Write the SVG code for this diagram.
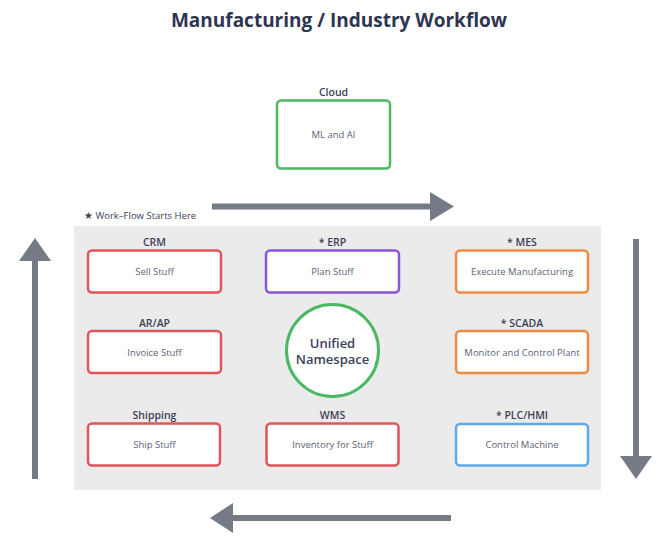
<svg xmlns="http://www.w3.org/2000/svg" width="669" height="558" viewBox="0 0 669 558">
<style>
text{font-family:"Open Sans","Liberation Sans",sans-serif}
.title{font-size:19px;font-weight:700;fill:#2e3550}
.lbl{font-size:10.5px;font-weight:600;fill:#3b4158;text-anchor:middle}
.txt{font-size:9.5px;fill:#5d6275;text-anchor:middle}
.box{fill:#fff;stroke-width:2.5}
.red{stroke:#e0545c}
.purple{stroke:#8c55d8}
.orange{stroke:#ef8a44}
.blue{stroke:#5ea9ea}
.green{stroke:#4cb863}
.shaft{stroke:#747b86;stroke-width:6;fill:none}
.head{fill:#747b86}
</style>
<rect width="669" height="558" fill="#fff"/>
<text class="title" x="339" y="27" text-anchor="middle">Manufacturing / Industry Workflow</text>
<rect x="74" y="226" width="527" height="264" fill="#ebebeb"/>
<text x="84" y="219" style="font-size:9.5px;fill:#3b4158">★ Work–Flow Starts Here</text>
<g id="connectors">
<line class="shaft" x1="212" y1="206.5" x2="432" y2="206.5"/>
<polygon class="head" points="430,192 454,206.5 430,221"/>
<line class="shaft" x1="636" y1="239" x2="636" y2="458"/>
<polygon class="head" points="620,456 652,456 636,479"/>
<line class="shaft" x1="451" y1="518" x2="232" y2="518"/>
<polygon class="head" points="233,503 210,518 233,533"/>
<line class="shaft" x1="35" y1="479" x2="35" y2="259"/>
<polygon class="head" points="19,261 51,261 35,238"/>
</g>
<g id="cloud">
<text class="lbl" x="333.5" y="96">Cloud</text>
<rect class="box green" x="277" y="100.5" width="113" height="68" rx="4"/>
<text class="txt" x="333.5" y="137.5">ML and AI</text>
</g>
<g id="crm">
<text class="lbl" x="154.5" y="246">CRM</text>
<rect class="box red" x="88" y="250.5" width="133" height="42" rx="4"/>
<text class="txt" x="154.5" y="275">Sell Stuff</text>
</g>
<g id="erp">
<text class="lbl" x="332.5" y="246">* ERP</text>
<rect class="box purple" x="266" y="250.5" width="133" height="42" rx="4"/>
<text class="txt" x="332.5" y="275">Plan Stuff</text>
</g>
<g id="mes">
<text class="lbl" x="522" y="246">* MES</text>
<rect class="box orange" x="456" y="250.5" width="132" height="42" rx="4"/>
<text class="txt" x="522" y="275">Execute Manufacturing</text>
</g>
<g id="arap">
<text class="lbl" x="154.5" y="327">AR/AP</text>
<rect class="box red" x="88" y="331" width="133" height="42" rx="4"/>
<text class="txt" x="154.5" y="355.5">Invoice Stuff</text>
</g>
<g id="uns">
<circle cx="332.5" cy="350.5" r="46" fill="#fff" stroke="#4cb863" stroke-width="3"/>
<text x="332.5" y="347.5" text-anchor="middle" style="font-size:13px;font-weight:600;fill:#3b4158">Unified</text>
<text x="332.5" y="364" text-anchor="middle" style="font-size:13px;font-weight:600;fill:#3b4158">Namespace</text>
</g>
<g id="scada">
<text class="lbl" x="522" y="327">* SCADA</text>
<rect class="box orange" x="456" y="331" width="132" height="42" rx="4"/>
<text class="txt" x="522" y="355.5">Monitor and Control Plant</text>
</g>
<g id="shipping">
<text class="lbl" x="154.5" y="419">Shipping</text>
<rect class="box red" x="88" y="423.5" width="132" height="42" rx="4"/>
<text class="txt" x="154.5" y="447.5">Ship Stuff</text>
</g>
<g id="wms">
<text class="lbl" x="332.5" y="419">WMS</text>
<rect class="box red" x="266.5" y="423.5" width="132" height="42" rx="4"/>
<text class="txt" x="332.5" y="447.5">Inventory for Stuff</text>
</g>
<g id="plc">
<text class="lbl" x="522" y="419">* PLC/HMI</text>
<rect class="box blue" x="456" y="424" width="132" height="41.5" rx="4"/>
<text class="txt" x="522" y="447.5">Control Machine</text>
</g>
</svg>
